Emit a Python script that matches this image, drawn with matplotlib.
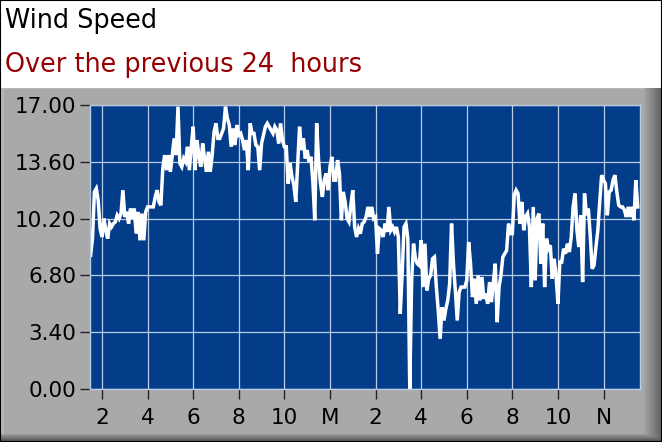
import numpy as np
import matplotlib
matplotlib.use('Agg')
import matplotlib.pyplot as plt
from matplotlib.patches import Rectangle

# readings every 5 minutes, hours since midnight of the previous day
start_hour = 1.5
step_min = 5

speed = [
    8.0, 9.0, 11.8, 12.0, 11.3, 9.6,
    9.1, 10.2, 9.5, 9.0, 9.9, 9.7, 9.9, 10.0, 10.4, 10.2, 10.5, 11.9,
    10.3, 10.6, 9.9, 10.8, 10.2, 10.8, 9.3, 10.6, 8.9, 10.5, 8.9, 10.6,
    10.9, 10.9, 10.9, 10.9, 11.5, 11.9, 11.2, 11.0, 13.2, 14.0, 13.1, 14.0,
    13.0, 14.0, 15.0, 14.0, 16.9, 13.5, 13.3, 13.8, 13.6, 14.5, 13.1, 14.5,
    15.7, 13.1, 14.9, 14.0, 13.3, 14.7, 13.8, 13.0, 14.2, 13.0, 14.0, 15.4,
    15.9, 15.0, 15.0, 15.3, 15.6, 16.9, 16.2, 15.8, 14.5, 15.6, 14.6, 15.8,
    15.2, 15.3, 14.9, 14.3, 14.9, 13.1, 15.9, 15.3, 15.3, 14.6, 14.5, 13.1,
    14.7, 15.2, 15.7, 15.9, 15.7, 15.5, 15.3, 15.7, 15.5, 14.7, 15.9, 14.9,
    14.5, 14.5, 12.3, 13.5, 12.7, 12.2, 11.2, 13.5, 15.7, 14.3, 15.0, 13.8,
    14.3, 13.6, 13.9, 12.4, 10.1, 15.9, 13.7, 12.3, 11.5, 12.5, 12.9, 11.9,
    13.3, 13.9, 12.5, 12.5, 13.7, 12.9, 10.1, 11.8, 11.2, 10.2, 10.0, 11.0,
    11.9, 9.7, 9.1, 9.6, 9.3, 9.9, 10.0, 10.3, 10.9, 10.3, 10.9, 10.2,
    10.3, 8.1, 9.6, 9.5, 9.1, 9.9, 9.4, 10.9, 9.5, 9.7, 9.4, 9.7,
    9.1, 4.5, 6.9, 9.7, 9.9, 9.0, 0.0, 6.5, 8.7, 7.8, 7.5, 7.4,
    8.9, 6.1, 8.7, 5.9, 6.6, 6.8, 7.8, 7.9, 6.1, 4.7, 3.0, 4.9,
    4.1, 4.8, 5.3, 6.3, 9.9, 7.5, 5.9, 4.1, 5.8, 6.1, 6.1, 6.1,
    6.5, 8.8, 7.5, 5.5, 6.6, 5.1, 6.8, 5.3, 6.7, 5.4, 5.7, 5.1,
    6.4, 5.2, 6.4, 7.5, 4.0, 6.1, 6.8, 7.9, 8.1, 8.3, 9.9, 9.3,
    9.3, 11.6, 11.9, 11.7, 9.9, 11.2, 9.5, 10.3, 10.5, 9.7, 6.1, 10.9,
    6.5, 10.2, 10.5, 7.5, 9.9, 6.1, 9.0, 8.4, 8.6, 6.6, 7.8, 6.8,
    5.1, 7.6, 7.6, 8.4, 8.1, 8.7, 8.2, 9.1, 10.9, 11.7, 9.5, 8.5,
    10.4, 6.4, 11.7, 10.4, 10.8, 9.2, 7.2, 7.4, 8.5, 9.5, 11.2, 12.8,
    12.5, 12.3, 10.4, 11.8, 11.9, 12.5, 12.8, 11.8, 11.0, 10.9, 10.9, 10.7,
    10.3, 10.9, 10.3, 10.9, 10.1, 12.5, 10.9,
]

tick_hours = [2, 4, 6, 8, 10, 12, 14, 16, 18, 20, 22, 24]
tick_labels = ['2', '4', '6', '8', '10', 'M', '2', '4', '6', '8', '10', 'N']
y_ticks = [0.0, 3.4, 6.8, 10.2, 13.6, 17.0]

hours = start_hour + np.arange(len(speed)) * step_min / 60.0

W, H = 662, 442
font = 'DejaVu Sans'

fig = plt.figure(figsize=(W / 100, H / 100), dpi=100)

# background: white header and grey bevelled panel
bg_img = np.ones((H, W, 3))
panel_top = 88
bg_img[panel_top:, :, :] = 0.665
bg_img[panel_top, :, :] = 0.72
bg_img[panel_top:, 1:4, :] = 0.72
shade_r = np.linspace(0.64, 0.38, W - 644)
bg_img[panel_top:, 644:, :] = shade_r[None, :, None]
shade_b = np.linspace(0.6, 0.3, H - 434)
bg_img[434:, :, :] = np.minimum(bg_img[434:, :, :], shade_b[:, None, None])
bg = fig.add_axes([0, 0, 1, 1])
bg.imshow(bg_img, aspect='auto', interpolation='nearest')
bg.axis('off')

fig.text(5 / W, 1 - 28 / H, 'Wind Speed', fontsize=18.4, family=font,
         color='black', va='baseline', ha='left')
fig.text(5 / W, 1 - 72 / H, 'Over the previous 24  hours', fontsize=18.4,
         family=font, color='#960000', va='baseline', ha='left')

ax = fig.add_axes([90 / W, 53 / H, 550 / W, 284 / H])
ax.set_facecolor('#033D8A')
ax.plot(hours, speed, color='white', lw=2.5, solid_joinstyle='miter')

ax.set_xlim(1.474, 25.6)
ax.set_ylim(0, 17)
ax.set_xticks(tick_hours)
ax.set_xticklabels(tick_labels)
ax.set_yticks(y_ticks)
ax.set_yticklabels([f'{v:.2f}' for v in y_ticks])
ax.grid(True, color='#B8CCE6', lw=0.9)
ax.set_axisbelow(True)
for side in ax.spines.values():
    side.set_color('#B8CCE6')
    side.set_linewidth(1)
ax.tick_params(axis='both', direction='out', length=7, width=1,
               color='#222222', labelsize=15.5, labelcolor='black')
ax.tick_params(axis='x', pad=7)
ax.tick_params(axis='y', pad=3)
for lbl in ax.get_xticklabels() + ax.get_yticklabels():
    lbl.set_family(font)

fig.patches.append(Rectangle((0, 0), 1, 1, transform=fig.transFigure,
                             fill=False, edgecolor='black', lw=1.5))

fig.savefig('out.png', dpi=100)
